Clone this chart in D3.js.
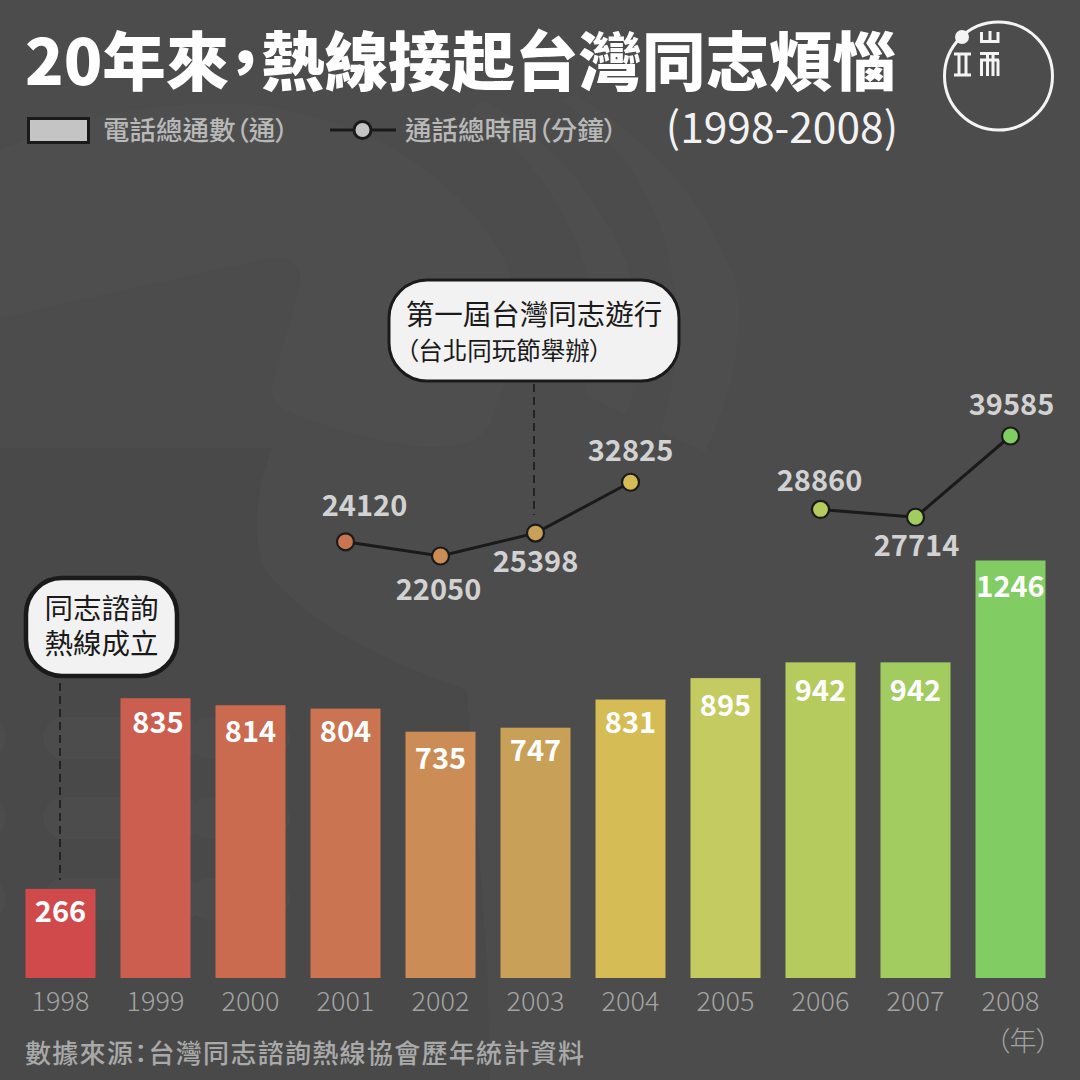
<!DOCTYPE html>
<html><head><meta charset="utf-8">
<script src="https://cdn.jsdelivr.net/npm/d3@7"></script>
<style>html,body{margin:0;padding:0;background:#4c4c4c}svg{display:block}text{font-family:"Noto Sans CJK TC","Noto Sans",sans-serif;font-feature-settings:"palt"}</style>
</head><body><svg id="c" width="1080" height="1080"></svg>
<script>
const years=["1998","1999","2000","2001","2002","2003","2004","2005","2006","2007","2008"];
const calls=[266,835,814,804,735,747,831,895,942,942,1246];
const minutes=[null,null,null,24120,22050,25398,32825,null,28860,27714,39585];
const barColors=["#d04a4c","#cb5e4f","#ca6a4f","#cb7451","#cb8c55","#c9a057","#d6bc55","#c4cb61","#b5cb5e","#a2cc60","#82cc64"];
const minuteLabelDy=[0,0,0,-26,44,39,-21,0,-18,39,-21];
const minuteLabelDx=[0,0,0,19,-2,0,0,0,-1,1,1];
const barLabelDy=[33,35,37,33,37,33,33,38,39,39,36];
const barLabelDx=[0,2.5,0,0,0,0,0,0,0,0,0];

const svg=d3.select("#c");
const bg="#4c4c4c", deco="#4e4e4e", dark="#494949", ink="#1a1a1a";
svg.append("rect").attr("width",1080).attr("height",1080).attr("fill",bg);

// faint background ornament
const d=svg.append("g");
d.append("path").attr("fill",deco).attr("d","M0,150 Q120,95 260,105 Q430,130 505,260 Q525,310 515,357 L490,425 Q475,450 420,447 Q340,435 285,410 Q268,400 272,385 L300,285 Q302,255 270,258 L0,318 Z");
d.append("path").attr("fill",deco).attr("d","M485,100 Q600,170 640,300 Q645,360 626,415 L585,395 Q610,300 565,220 Q530,150 470,110 Z");
d.append("path").attr("fill",deco).attr("d","M575,95 Q700,170 738,290 Q745,370 705,452 L660,432 Q690,340 665,240 Q635,150 560,100 Z");
d.append("path").attr("fill",dark).attr("d","M0,448 H272 Q245,520 265,570 Q320,640 467,690 L487,960 L490,1080 H0 Z");
[[717],[797],[878]].forEach(r=>{
  [[-60,66],[43,160],[188,102]].forEach(p=>d.append("rect").attr("x",p[0]).attr("y",r[0]).attr("width",p[1]).attr("height",42).attr("rx",21).attr("fill",bg));
});

const x=d3.scaleBand().domain(years).range([13,1058]).paddingInner(25/95).paddingOuter(12.5/95);
const y=d3.scaleLinear().domain([0,1246]).range([978,560.5]);
const yM=d3.scaleLinear().domain([22050,39585]).range([556,436]);
const cx=v=>x(v)+x.bandwidth()/2;

// title
svg.append("text").attr("x",25).attr("y",85).attr("font-size",63.5).attr("font-weight",900).attr("fill","#fff").text("20年來\uFF0C熱線接起台灣同志煩惱");
svg.append("text").attr("x",898).attr("y",143).attr("text-anchor","end").attr("font-size",42.5).attr("font-weight",400).attr("fill","#f2f2f2").text("(1998-2008)");

// logo
const logo=svg.append("g").attr("fill","none").attr("stroke","#f4f4f4");
logo.append("circle").attr("cx",998.5).attr("cy",76).attr("r",54).attr("stroke-width",3);
logo.append("circle").attr("cx",962).attr("cy",37).attr("r",7).attr("fill","#f4f4f4").attr("stroke","none");
logo.append("path").attr("stroke-width",3).attr("d","M981.5,32 V41.5 H998 V32 M990,31 V41.5 M954,54 H971 M959,54 V75 M966,54 V75 M954,75 H971 M980,53.5 H999 M981.5,60 V76 M987.5,55 V76 M993,55 V76 M998,60 V76 M980,60 H999");

// legend
svg.append("rect").attr("x",28.5).attr("y",118.5).attr("width",60).attr("height",24).attr("fill","#c4c4c4").attr("stroke",ink).attr("stroke-width",3);
svg.append("text").attr("x",103).attr("y",140).attr("font-size",26.5).attr("font-weight",500).attr("fill","#b9b9b9").text("電話總通數\uFF08通\uFF09");
svg.append("line").attr("x1",330).attr("x2",396).attr("y1",130).attr("y2",130).attr("stroke",ink).attr("stroke-width",3);
svg.append("circle").attr("cx",362.5).attr("cy",130).attr("r",8.5).attr("fill","#c4c4c4").attr("stroke",ink).attr("stroke-width",3);
svg.append("text").attr("x",405).attr("y",140).attr("font-size",26.5).attr("font-weight",500).attr("fill","#b9b9b9").text("通話總時間\uFF08分鐘\uFF09");

// bars
svg.append("g").selectAll("rect").data(years).join("rect")
 .attr("x",v=>x(v)).attr("width",x.bandwidth())
 .attr("y",(v,i)=>y(calls[i])).attr("height",(v,i)=>y(0)-y(calls[i]))
 .attr("fill",(v,i)=>barColors[i]);
svg.append("g").selectAll("text").data(years).join("text")
 .attr("x",(v,i)=>cx(v)+barLabelDx[i]).attr("y",(v,i)=>y(calls[i])+barLabelDy[i]).attr("text-anchor","middle")
 .attr("font-size",29).attr("font-weight",700).attr("fill","#fff").text((v,i)=>calls[i]);

// axis labels
const ax=svg.append("g").attr("transform","translate(0,978)").call(d3.axisBottom(x).tickSize(0).tickPadding(14));
ax.select(".domain").remove();
ax.selectAll("text").attr("font-size",27).attr("fill","#a3a3a3").attr("font-family",'"Noto Sans CJK TC"').attr("font-weight",300);
svg.append("text").attr("x",1050).attr("y",1051).attr("text-anchor","end").attr("font-size",27).attr("font-weight",300).attr("fill","#a3a3a3").text("\uFF08年\uFF09");
svg.append("text").attr("x",25).attr("y",1063).attr("font-size",26).attr("letter-spacing",1.3).attr("font-weight",500).attr("fill","#a9a9a9").text("數據來源\uFF1A台灣同志諮詢熱線協會歷年統計資料");

// dashed leaders
const dash=[[60,683,880],[534,384,515]];
svg.append("g").selectAll("line").data(dash).join("line").attr("x1",e=>e[0]).attr("x2",e=>e[0]).attr("y1",e=>e[1]).attr("y2",e=>e[2]).attr("stroke",ink).attr("stroke-width",1.6).attr("stroke-dasharray","8 5");

// lines
const line=d3.line().defined(v=>minutes[years.indexOf(v)]!=null).x(cx).y(v=>yM(minutes[years.indexOf(v)]));
svg.append("path").attr("d",line(years)).attr("fill","none").attr("stroke",ink).attr("stroke-width",3);
const pts=years.filter((v,i)=>minutes[i]!=null);
svg.append("g").selectAll("circle").data(pts).join("circle").attr("cx",cx).attr("cy",v=>yM(minutes[years.indexOf(v)])).attr("r",8.5)
 .attr("fill",v=>barColors[years.indexOf(v)]).attr("stroke",ink).attr("stroke-width",2.2);
svg.append("g").selectAll("text").data(pts).join("text")
 .attr("x",v=>cx(v)+minuteLabelDx[years.indexOf(v)])
 .attr("y",v=>{const i=years.indexOf(v);return yM(minutes[i])+minuteLabelDy[i]})
 .attr("text-anchor","middle").attr("font-size",29).attr("font-weight",700).attr("fill","#d2d2d2").text(v=>minutes[years.indexOf(v)]);

// callouts
function box(x0,y0,w,h,r,sw,lines){
 const g=svg.append("g");
 g.append("rect").attr("x",x0).attr("y",y0).attr("width",w).attr("height",h).attr("rx",r).attr("fill","#f2f2f2").attr("stroke",ink).attr("stroke-width",sw);
 lines.forEach(l=>g.append("text").attr("x",l.x).attr("y",l.y).attr("font-size",l.s).attr("text-anchor",l.a||"middle").attr("fill",ink).text(l.t));
}
box(389,280,290,101,38,3,[{x:534,y:325,s:28.5,t:"第一屆台灣同志遊行"},{x:406,y:360,s:24.5,a:"start",t:"\uFF08台北同玩節舉辦\uFF09"}]);
box(26,578,151,98,36,4.5,[{x:101.5,y:619,s:28.5,t:"同志諮詢"},{x:101.5,y:654,s:28.5,t:"熱線成立"}]);
</script></body></html>
